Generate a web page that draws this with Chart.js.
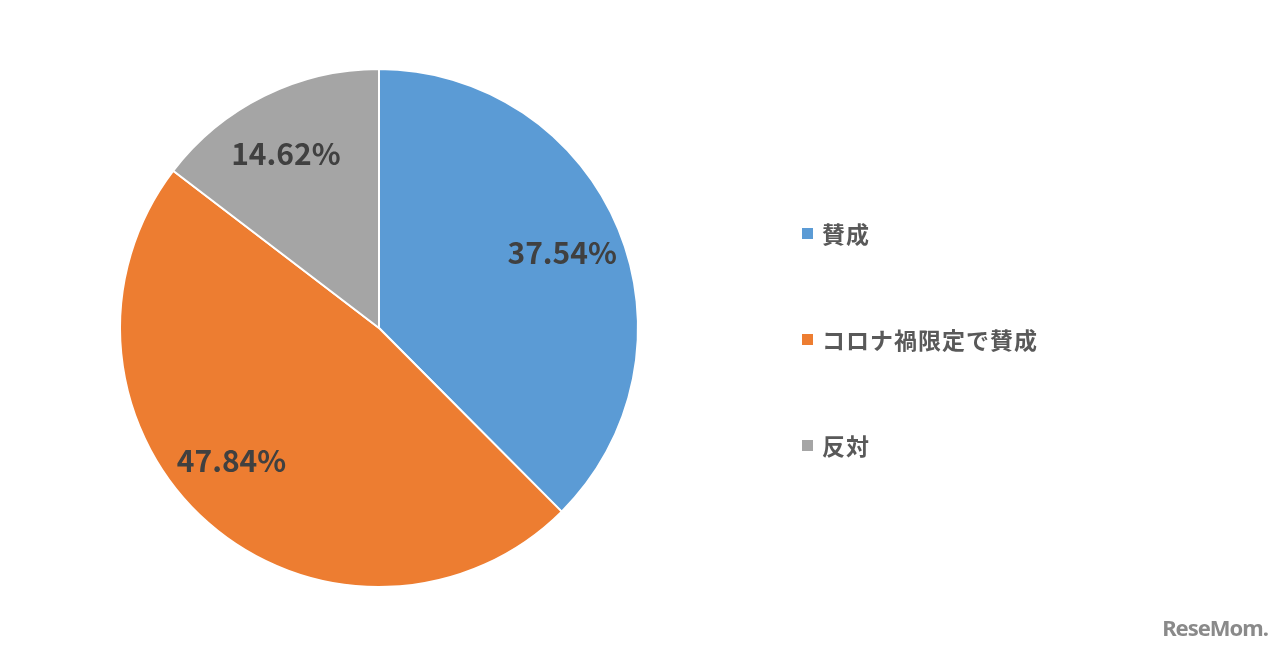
<!DOCTYPE html>
<html>
<head>
<meta charset="utf-8">
<script src="https://cdn.jsdelivr.net/npm/chart.js@4"></script>
<style>
  html, body { margin: 0; padding: 0; background: #fff; }
  #wrap { position: relative; width: 1280px; height: 652px; }
  #mark { position: absolute; right: 12px; bottom: 10px; font: bold 22px "Noto Sans", sans-serif; color: #8a8a8a; letter-spacing: -1px; }
</style>
</head>
<body>
<div id="wrap">
  <canvas id="pieChart" width="1280" height="652"></canvas>
  <div id="mark">ReseMom.</div>
</div>
<script>
const labels = ["賛成", "コロナ禍限定で賛成", "反対"];
const values = [37.54, 47.84, 14.62];
const colors = ["#5B9BD5", "#ED7D31", "#A5A5A5"];

// percent labels inside slices + legend on the right
const pieText = {
  id: 'pieText',
  afterDraw(chart) {
    const c = chart.ctx;
    const meta = chart.getDatasetMeta(0);
    const shift = [0, 0.12, -0.03]; // excel "best fit" nudges (radians)
    c.save();
    c.fillStyle = '#404040';
    c.font = 'bold 30px "Noto Sans CJK JP", "Noto Sans", sans-serif';
    c.textAlign = 'center';
    c.textBaseline = 'middle';
    meta.data.forEach(function (arc, i) {
      const mid = (arc.startAngle + arc.endAngle) / 2 + shift[i];
      const r = arc.outerRadius * 0.765;
      const x = arc.x + Math.cos(mid) * r;
      const y = arc.y + Math.sin(mid) * r;
      c.fillText(values[i].toFixed(2) + '%', x, y);
    });

    // legend
    c.textAlign = 'left';
    c.font = 'bold 23px "Noto Sans CJK JP", sans-serif';
    c.letterSpacing = '1px';
    labels.forEach(function (lab, i) {
      const y = 234 + i * 106;
      c.fillStyle = colors[i];
      c.fillRect(802, y - 6, 11, 11);
      c.fillStyle = '#595959';
      c.fillText(lab, 822, y);
    });
    c.restore();
  }
};

new Chart(document.getElementById('pieChart').getContext('2d'), {
  type: 'pie',
  data: {
    labels: labels,
    datasets: [{
      data: values,
      backgroundColor: colors,
      borderColor: '#fff',
      borderWidth: 2
    }]
  },
  options: {
    responsive: false,
    animation: false,
    radius: 259,
    layout: { padding: { left: 0, right: 522, top: 4, bottom: 0 } },
    plugins: {
      legend: { display: false },
      tooltip: { enabled: false }
    }
  },
  plugins: [pieText]
});
</script>
</body>
</html>
